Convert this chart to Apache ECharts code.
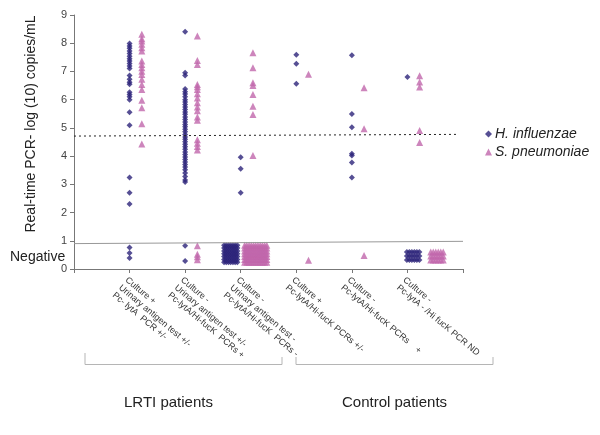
<!DOCTYPE html>
<html>
<head>
<meta charset="utf-8">
<script src="https://cdn.jsdelivr.net/npm/echarts@6/dist/echarts.min.js"></script>
<style>html,body{margin:0;padding:0;background:#fff}#c{width:600px;height:435px}</style>
</head>
<body>
<div id="c"></div>
<script>
// Category labels (x axis)
var categories = [
  "Culture +\nUrinary antigen test +/-\nPc- lytA  PCR +/-",
  "Culture -\nUrinary antigen test +/-\nPc-lytA/Hi-fucK  PCRs +",
  "Culture -\nUrinary antigen test -\nPc-lytA/Hi-fucK  PCRs -",
  "Culture +\nPc-lytA/Hi-fucK PCRs +/-",
  "Culture -\nPc-lytA/Hi-fucK PCRs    +",
  "Culture -\nPc-lytA - /Hi fucK PCR ND"
];
var yTicks = [0,1,2,3,4,5,6,7,8,9];

// H. influenzae values (log10 copies/mL) per category
var hiCat1 = [7.99,7.90,7.82,7.72,7.64,7.54,7.45,7.37,7.28,7.19,7.10,6.86,6.72,6.62,6.55,6.26,6.18,6.10,6.00,5.55,5.09,3.24,2.70,2.30,0.76,0.57,0.39];
var hiCat2 = [8.41,6.95,6.86,6.38,6.28,6.20,6.10,6.00,5.92,5.83,5.74,5.65,5.56,5.48,5.39,5.30,5.21,5.12,5.04,4.95,4.86,4.77,4.68,4.60,4.51,4.42,4.33,4.24,4.15,4.06,3.97,3.88,3.79,3.70,3.61,3.52,3.40,3.28,3.15,3.08,0.82,0.28];
var hiCat3 = [3.96,3.55,2.70];
var hiCat4 = [7.59,7.27,6.56];
var hiCat5 = [7.57,5.49,5.02,4.08,4.02,3.77,3.24];
var hiCat6 = [6.80];

// S. pneumoniae values per category
var spCat1 = [8.32,8.16,8.08,7.96,7.84,7.72,7.37,7.25,7.13,7.01,6.89,6.72,6.54,6.36,5.98,5.71,5.15,4.43];
var spCat2 = [8.26,7.39,7.25,6.54,6.46,6.36,6.21,6.06,5.89,5.74,5.61,5.39,5.27,4.58,4.46,4.34,4.22,0.82,0.52,0.43,0.33];
var spCat3 = [7.66,7.13,6.60,6.50,6.18,5.77,5.47,4.02];
var spCat4 = [6.90,0.31];
var spCat5 = [6.42,4.97,0.48];
var spCat6 = [6.85,6.63,6.45,4.91,4.48];

// Dense "negative" clusters (category 3 and category 6)
var negLevelsCat3 = [0.24,0.34,0.44,0.54,0.64,0.74,0.84];
var negLevelsCat6 = [0.32,0.46,0.60];

// Threshold lines
var detectionLimit = [0.90, 0.98];   // solid line (left, right)
var cutoff = [4.71, 4.77];           // dashed line (left, right)

var hiData = [], spData = [];
[hiCat1,hiCat2,hiCat3,hiCat4,hiCat5,hiCat6].forEach(function(arr,i){
  arr.forEach(function(v){ hiData.push([i+1, v]); });
});
[spCat1,spCat2,spCat3,spCat4,spCat5,spCat6].forEach(function(arr,i){
  arr.forEach(function(v){ spData.push([i+1.22, v]); });
});
// clusters: spread horizontally
function addCluster(target, levels, x0, x1, step){
  levels.forEach(function(v){
    for (var x=x0; x<=x1+1e-9; x+=step) target.push([x, v]);
  });
}
addCluster(hiData, negLevelsCat3, 2.70, 2.96, 0.04);
addCluster(spData, negLevelsCat3, 3.07, 3.47, 0.04);
addCluster(hiData, negLevelsCat6, 5.99, 6.25, 0.045);
addCluster(spData, negLevelsCat6, 6.42, 6.66, 0.045);

var chart = echarts.init(document.getElementById('c'), null, {renderer:'canvas'});
var FONT = '"Liberation Sans", Arial, sans-serif';
var BLUE = '#2c2379';
var PINK = '#c066ab';

chart.setOption({
  animation: false,
  backgroundColor: '#ffffff',
  grid: {left: 74, right: 137, top: 15, bottom: 166, containLabel: false},
  legend: {
    orient: 'vertical', left: 480, top: 122, itemGap: 4,
    itemWidth: 7, itemHeight: 7,
    textStyle: {fontFamily: FONT, fontStyle: 'italic', fontSize: 14, color: '#222', padding:[0,0,0,-2]},
    data: [{name:'H. influenzae', icon:'diamond'}, {name:'S. pneumoniae', icon:'triangle'}]
  },
  xAxis: {
    type: 'value', min: 0, max: 7, interval: 1,
    splitLine: {show:false},
    axisLine: {lineStyle: {color:'#777', width:1}},
    axisTick: {show:true, length: 4, lineStyle:{color:'#777'}},
    axisLabel: {
      rotate: -40, margin: 6, fontSize: 9, lineHeight: 10, color: '#333', fontFamily: FONT,
      align: 'left', verticalAlign: 'top',
      formatter: function(v){ return (v>=1 && v<=6) ? categories[v-1] : ''; }
    }
  },
  yAxis: {
    type: 'value', min: 0, max: 9, interval: 1,
    splitLine: {show:false},
    axisLine: {show:true, lineStyle: {color:'#777', width:1}},
    axisTick: {show:true, length: 4, lineStyle:{color:'#777'}},
    axisLabel: {fontSize: 11, color: '#444', fontFamily: FONT, margin: 7,
      formatter: function(v){ return yTicks.indexOf(v) >= 0 ? String(v) : ''; }}
  },
  series: [
    {
      name: 'H. influenzae', type: 'scatter', symbol: 'diamond', symbolSize: 6,
      itemStyle: {color: BLUE}, data: hiData, z: 3,
      markLine: {
        silent: true, symbol: 'none', label: {show:false},
        data: [
          [{coord:[0, detectionLimit[0]], lineStyle:{color:'#999', width:1, type:'solid'}}, {coord:[7, detectionLimit[1]]}],
          [{coord:[0, cutoff[0]], lineStyle:{color:'#222', width:1, type:[2,3]}}, {coord:[6.92, cutoff[1]]}]
        ]
      }
    },
    {
      name: 'S. pneumoniae', type: 'scatter', symbol: 'triangle', symbolSize: 7,
      itemStyle: {color: PINK}, data: spData, z: 2
    }
  ],
  graphic: [
    {type:'text', x: 31, y: 124, rotation: Math.PI/2,
      style:{text:'Real-time PCR- log (10) copies/mL', font:'14px ' + FONT, fill:'#222', textAlign:'center', textVerticalAlign:'middle'}},
    {type:'text', x: 10, y: 257,
      style:{text:'Negative', font:'14px ' + FONT, fill:'#222', textVerticalAlign:'middle'}},
    // brackets
    {type:'polyline', shape:{points:[[85,353],[85,364.5],[282,364.5],[282,357]]}, style:{stroke:'#b5b5b5', lineWidth:1, fill:null}},
    {type:'polyline', shape:{points:[[296,357],[296,364.5],[493,364.5],[493,357]]}, style:{stroke:'#b5b5b5', lineWidth:1, fill:null}},
    {type:'text', x: 124, y: 403,
      style:{text:'LRTI patients', font:'15px ' + FONT, fill:'#222', textVerticalAlign:'middle'}},
    {type:'text', x: 342, y: 403,
      style:{text:'Control patients', font:'15px ' + FONT, fill:'#222', textVerticalAlign:'middle'}}
  ]
});
</script>
</body>
</html>
